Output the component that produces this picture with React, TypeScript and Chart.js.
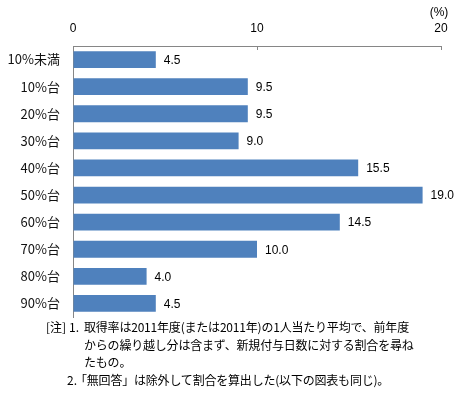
import React, { useEffect, useRef } from "react";
import { Chart, registerables } from "chart.js";

Chart.register(...registerables);

const categories = ["10%未満", "10%台", "20%台", "30%台", "40%台", "50%台", "60%台", "70%台", "80%台", "90%台"];
const values = [4.5, 9.5, 9.5, 9.0, 15.5, 19.0, 14.5, 10.0, 4.0, 4.5];
const xTicks = [0, 10, 20];
const unitLabel = "(%)";
const noteLines = [
  { label: "[注]", num: "1.", text: "取得率は2011年度(または2011年)の1人当たり平均で、前年度" },
  { label: "", num: "", text: "からの繰り越し分は含まず、新規付与日数に対する割合を尋ね" },
  { label: "", num: "", text: "たもの。" },
  { label: "", num: "2.", text: "「無回答」は除外して割合を算出した(以下の図表も同じ)。" },
];

const BAR_COLOR = "#4F81BD";
const AXIS_COLOR = "#868686";
const LABEL_FONT = "'Liberation Sans', 'Noto Sans CJK JP', sans-serif";
const CJK_FONT = "'Noto Sans CJK JP', sans-serif";

const extrasPlugin = {
  id: "extras",
  afterDatasetsDraw(chart: any) {
    const ctx = chart.ctx;
    const xs = chart.scales.x;
    const area = chart.chartArea;
    ctx.save();
    ctx.strokeStyle = AXIS_COLOR;
    ctx.lineWidth = 1;
    xTicks.forEach((v) => {
      const px = Math.round(xs.getPixelForValue(v)) + 0.5;
      ctx.beginPath();
      ctx.moveTo(px, area.top);
      ctx.lineTo(px, area.top + 4);
      ctx.stroke();
    });
    ctx.fillStyle = "#000";
    ctx.font = `12px ${LABEL_FONT}`;
    ctx.textBaseline = "middle";
    ctx.textAlign = "left";
    const meta = chart.getDatasetMeta(0);
    meta.data.forEach((bar: any, i: number) => {
      ctx.fillText(values[i].toFixed(1), bar.x + 8, bar.y + 1);
    });
    ctx.textAlign = "center";
    ctx.fillText(unitLabel, xs.getPixelForValue(20) - 2, 13);
    ctx.restore();
  },
};

function BarChart() {
  const ref = useRef<HTMLCanvasElement>(null);
  useEffect(() => {
    if (!ref.current) return;
    const chart = new Chart(ref.current, {
      type: "bar",
      data: {
        labels: categories,
        datasets: [
          {
            data: values,
            backgroundColor: BAR_COLOR,
            borderWidth: 0,
            barPercentage: 0.62,
            categoryPercentage: 1,
          },
        ],
      },
      options: {
        indexAxis: "y",
        animation: false,
        responsive: false,
        maintainAspectRatio: false,
        layout: { padding: { left: 0, right: 30, top: 0, bottom: 76 } },
        plugins: {
          legend: { display: false },
          tooltip: { enabled: false },
        },
        scales: {
          x: {
            position: "top",
            min: 0,
            max: 20,
            afterFit: (s: any) => {
              s.height = 46;
            },
            afterBuildTicks: (s: any) => {
              s.ticks = xTicks.map((v) => ({ value: v }));
            },
            ticks: {
              font: { size: 12, family: LABEL_FONT },
              color: "#000",
              padding: 10,
              maxRotation: 0,
            },
            grid: { drawOnChartArea: false, drawTicks: false },
            border: { display: true, color: AXIS_COLOR, width: 1 },
          },
          y: {
            afterFit: (s: any) => {
              s.width = 73;
            },
            ticks: {
              font: { size: 13, family: CJK_FONT },
              color: "#111",
              padding: 13,
            },
            grid: { display: false, drawTicks: false },
            border: { display: true, color: AXIS_COLOR, width: 1 },
          },
        },
      },
      plugins: [extrasPlugin],
    });
    return () => chart.destroy();
  }, []);
  return <canvas ref={ref} width={471} height={393} style={{ position: "absolute", left: 0, top: 0, width: 471, height: 393 }} />;
}

export default function App() {
  const tops = [318, 336, 353, 371];
  return (
    <div style={{ position: "fixed", left: 0, top: 0, width: 471, height: 393, background: "#fff", overflow: "hidden" }}>
      <BarChart />
      {noteLines.map((ln, i) => (
        <React.Fragment key={i}>
          {ln.label && (
            <div style={{ position: "absolute", left: 46, top: tops[i], fontFamily: CJK_FONT, fontSize: 12, lineHeight: "18px", color: "#000", whiteSpace: "nowrap" }}>
              {ln.label}
            </div>
          )}
          {ln.num && (
            <div style={{ position: "absolute", left: i === 0 ? 69 : 67, top: tops[i], fontFamily: CJK_FONT, fontSize: 12, lineHeight: "18px", color: "#000", whiteSpace: "nowrap" }}>
              {ln.num}
            </div>
          )}
          <div style={{ position: "absolute", left: i === 3 ? 75 : 84, top: tops[i], fontFamily: CJK_FONT, fontSize: 12, letterSpacing: "-0.2px", lineHeight: "18px", color: "#000", whiteSpace: "nowrap" }}>
            {ln.text}
          </div>
        </React.Fragment>
      ))}
    </div>
  );
}
